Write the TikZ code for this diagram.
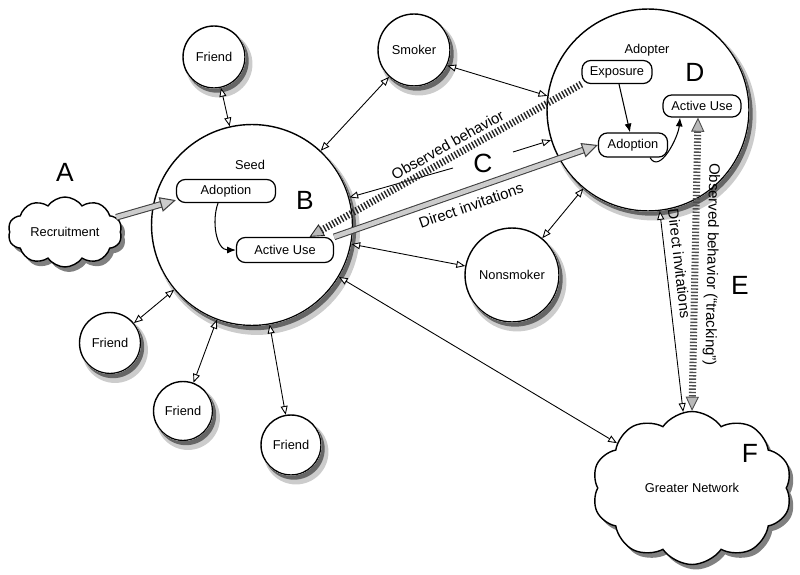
\documentclass[tikz,border=0pt]{standalone}
\usepackage{fontspec}
\setmainfont{Liberation Sans}
\usetikzlibrary{arrows.meta,shapes.symbols,calc}

\tikzset{
  every node/.style={font=\fontsize{7.3}{9}\selectfont},
  ohead/.tip={Triangle[fill=white,length=5pt,width=4pt,line width=0.5pt]},
  hhead/.tip={Triangle[length=8pt,width=7.5pt,fill=gray!55,line width=0.5pt]},
  agent/.style={shape=circle,draw=black,line width=0.8pt,fill=white,inner sep=0pt},
  puffshape/.style={shape=cloud,cloud puffs=10,cloud puff arc=110,cloud ignores aspect},
  puff/.style={puffshape,draw=black,line width=0.8pt,fill=white},
  puffshadow/.style={puffshape,fill=black!50},
  stage/.style={shape=rectangle,rounded corners=5pt,draw=black,line width=0.7pt,
    fill=white,inner sep=1pt,minimum height=0.46cm},
  tag/.style={font=\fontsize{15}{18}\selectfont},
  edgetext/.style={font=\fontsize{8.5}{10}\selectfont,sloped},
  link/.style={line width=0.5pt,ohead-ohead},
  flow/.style={line width=0.6pt,-{Latex[length=5pt,width=4pt]}},
  invite/.style={draw=black!75,line width=0.6pt,double=gray!40,double distance=2.6pt,
    -{Triangle[length=9pt,width=8.5pt,fill=gray!40,line width=0.6pt]}},
  observed/.style={draw=black!85,line width=4pt,dash pattern=on 0.8pt off 1.1pt,-hhead}
}

\begin{document}
\begin{tikzpicture}[x=0.02cm,y=0.02cm]
\useasboundingbox (0,0) rectangle (800,-574);

% cloud shadows first
\node[puffshadow,minimum width=2.28cm,minimum height=1.4cm] (recruitshadow) at (69,-237) {};
\node[puffshadow,minimum width=4cm,minimum height=3.06cm] (networkshadow) at (696,-493) {};

% clouds
\node[puff,minimum width=2.28cm,minimum height=1.4cm] (recruit) at (65,-232) {Recruitment};
\node[puff,minimum width=4cm,minimum height=3.06cm] (network) at (692,-488) {Greater Network};

% seed
\node[agent,minimum size=4.02cm] (seed) at (252,-225) {};
\node[] (seedlbl) at (250,-165) {Seed};
\node[tag] (B) at (305,-200) {B};
\node[stage,minimum width=1.98cm] (adoptB) at (226,-191) {Adoption};
\node[stage,minimum width=1.94cm,minimum height=0.5cm] (useB) at (285,-250) {Active Use};

% adopter
\node[agent,minimum size=4.04cm] (adopter) at (648,-110) {};
\node[] (adopterlbl) at (647,-50) {Adopter};
\node[tag] (D) at (695,-72) {D};
\node[stage,minimum width=1.4cm] (expoD) at (617,-72) {Exposure};
\node[stage,minimum width=1.38cm,minimum height=0.48cm] (adoptD) at (633,-145) {Adoption};
\node[stage,minimum width=1.56cm,minimum height=0.44cm] (useD) at (702,-106) {Active Use};

% neighbours
\node[agent,minimum size=1.24cm] (friend1) at (214,-57) {Friend};
\node[agent,minimum size=1.44cm] (smoker) at (414,-50) {Smoker};
\node[agent,minimum size=1.88cm] (nonsmoker) at (512,-275) {Nonsmoker};
\node[agent,minimum size=1.22cm] (friend2) at (110,-343) {Friend};
\node[agent,minimum size=1.18cm] (friend3) at (183,-411) {Friend};
\node[agent,minimum size=1.2cm] (friend4) at (291,-445) {Friend};

% circle shadows, kept outside each circle
\foreach \nd in {seed,adopter,friend1,smoker,nonsmoker,friend2,friend3,friend4}{
  \begin{scope}[even odd rule]
    \clip let \p1=($(\nd.east)-(\nd.center)$) in
      (-10,10) rectangle (810,-584) (\nd.center) circle[radius=\x1];
    \fill[black!20] let \p1=($(\nd.east)-(\nd.center)$) in ($(\nd.center)+(5,-7)$) circle[radius=\x1+1pt];
    \fill[black!60] let \p1=($(\nd.east)-(\nd.center)$) in ($(\nd.center)+(3,-4)$) circle[radius=\x1];
  \end{scope}
}

\node[tag] (A) at (65,-172) {A};
\node[tag] (C) at (483,-163) {C};
\node[tag] (E) at (740,-285) {E};
\node[tag] (F) at (750,-453) {F};

\coordinate (cl) at (453,-168);
\coordinate (cr) at (513,-152);

% inside the circles
\draw[flow] ($(adoptB.south)+(-8,0)$) to[out=-110,in=180] (useB.west);
\draw[flow] ($(expoD.south)+(2,0)$) -- ($(adoptD.north)+(-3,0)$);
\draw[flow] ($(adoptD.south)+(17,0)$) to[out=-60,in=-95] ($(useD.south)+(-22,0)$);

% ties
\path[link] (friend1) edge (seed);
\path[link] (smoker) edge (seed);
\path[link] (smoker.-25) edge (adopter.172);
\path[link] (seed) edge (nonsmoker);
\path[link] (nonsmoker) edge (adopter);
\path[link] (seed) edge (friend2) (seed) edge (friend3) (seed) edge (friend4);
\path[link] (seed) edge (network);
\path[link] (adopter) edge node[edgetext,pos=0.27,above=1pt] {Direct invitations} (network);
\path[link,-ohead] (cl) edge (seed);
\path[link,-ohead] (cr) edge (adopter);

% channels
\draw[invite] (recruit) -- ($(adoptB.south west)+(0,3)$);
\draw[invite] (useB.north east) -- node[edgetext,below=2pt] {Direct invitations} (adoptD.west);
\draw[observed] (expoD.south west) -- node[edgetext,pos=0.47,above=1pt,inner sep=1pt] {Observed behavior}
  ($(useB.north)!0.5!(useB.north east)$);
\draw[observed,draw=black!70,hhead-hhead] ($(useD.south)+(-4,0)$) -- node[edgetext,allow upside down,above]
  {Observed behavior (“tracking”)} (network.north);
\end{tikzpicture}
\end{document}
